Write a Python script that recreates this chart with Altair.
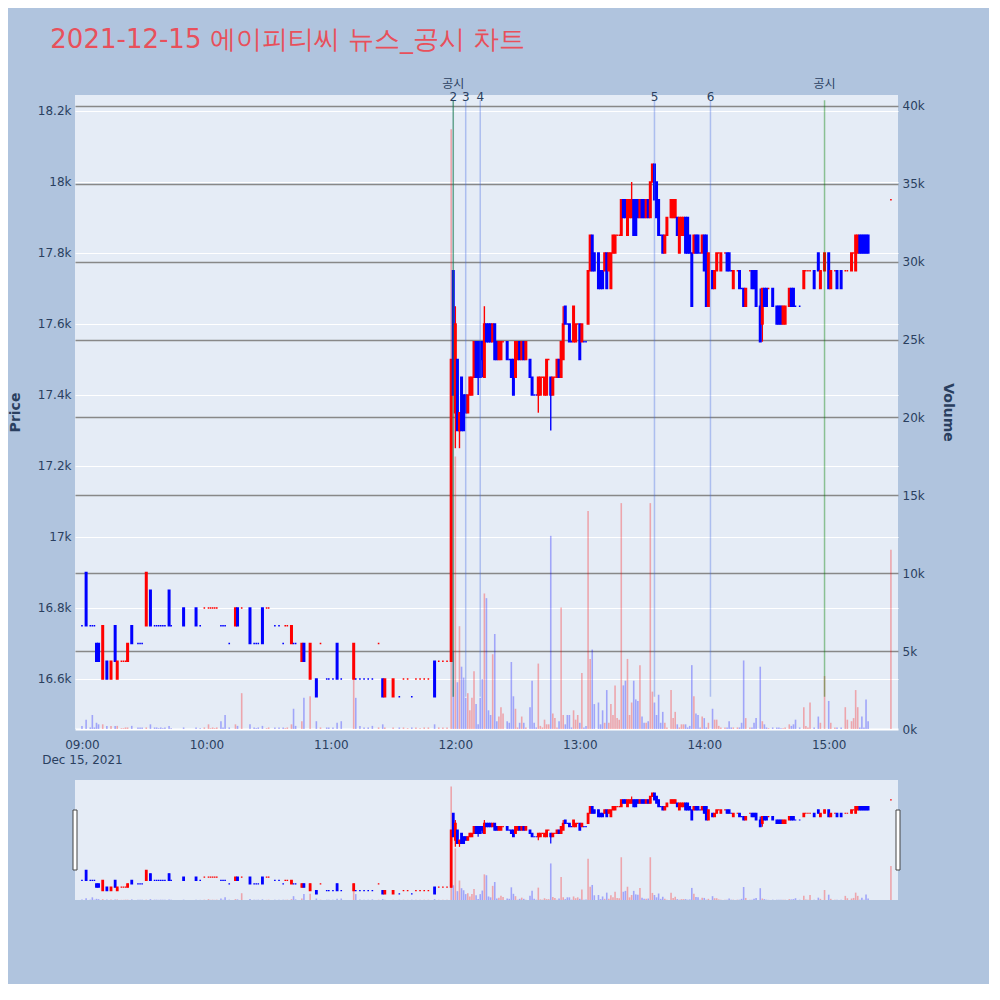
import altair as alt
import pandas as pd

# ---------------- data (1-minute candles, 2021-12-15) ----------------
times = [
    "09:00","09:02","09:04","09:05","09:06","09:07","09:08","09:10","09:12","09:14",
    "09:16","09:17","09:19","09:20","09:21","09:22","09:24","09:27","09:28","09:29",
    "09:31","09:33","09:35","09:36","09:37","09:38","09:39","09:40","09:42","09:43",
    "09:49","09:55","09:57","09:59","10:01","10:02","10:03","10:04","10:05","10:07",
    "10:08","10:09","10:11","10:14","10:15","10:17","10:21","10:23","10:24","10:25",
    "10:27","10:29","10:30","10:33","10:35","10:37","10:38","10:39","10:41","10:42",
    "10:43","10:46","10:47","10:50","10:53","10:55","10:58","10:59","11:01","11:03",
    "11:05","11:11","11:12","11:14","11:16","11:18","11:20","11:23","11:25","11:26",
    "11:30","11:33","11:35","11:37","11:39","11:41","11:43","11:45","11:47","11:50",
    "11:52","11:54","11:56","11:58","11:59","12:00","12:01","12:02","12:03","12:04",
    "12:05","12:06","12:07","12:08","12:09","12:10","12:11","12:12","12:13","12:14",
    "12:15","12:16","12:17","12:18","12:19","12:20","12:21","12:22","12:23","12:25",
    "12:26","12:27","12:28","12:29","12:30","12:31","12:32","12:33","12:34","12:36",
    "12:37","12:38","12:39","12:40","12:41","12:42","12:43","12:44","12:45","12:46",
    "12:47","12:48","12:49","12:50","12:51","12:52","12:53","12:54","12:55","12:56",
    "12:57","12:58","12:59","13:00","13:01","13:02","13:03","13:04","13:05","13:06",
    "13:07","13:09","13:10","13:11","13:12","13:13","13:14","13:15","13:16","13:17",
    "13:18","13:19","13:20","13:21","13:22","13:23","13:24","13:25","13:26","13:27",
    "13:28","13:29","13:30","13:31","13:32","13:33","13:34","13:35","13:36","13:37",
    "13:38","13:39","13:40","13:41","13:42","13:44","13:45","13:46","13:47","13:48",
    "13:49","13:50","13:51","13:52","13:53","13:54","13:55","13:56","13:57","13:58",
    "13:59","14:00","14:01","14:02","14:04","14:05","14:06","14:07","14:08","14:10",
    "14:11","14:12","14:13","14:14","14:16","14:17","14:18","14:19","14:20","14:22",
    "14:23","14:24","14:25","14:27","14:28","14:29","14:30","14:31","14:33","14:35",
    "14:36","14:37","14:38","14:39","14:41","14:42","14:43","14:44","14:46","14:48",
    "14:49","14:50","14:51","14:53","14:55","14:56","14:58","15:00","15:01","15:03",
    "15:04","15:06","15:08","15:09","15:11","15:12","15:13","15:14","15:15","15:16",
    "15:17","15:18","15:19","15:30",
]
opens = [
    16750,16900,16750,16750,16750,16700,16700,16600,16650,16600,
    16750,16600,16650,16650,16650,16650,16750,16700,16700,16700,
    16750,16850,16750,16750,16750,16750,16750,16750,16850,16750,
    16800,16800,16750,16800,16800,16800,16800,16800,16800,16750,
    16750,16750,16700,16750,16800,16800,16800,16700,16700,16700,
    16800,16800,16800,16750,16750,16700,16750,16750,16700,16700,
    16700,16650,16700,16600,16600,16700,16600,16600,16600,16700,
    16600,16600,16600,16600,16600,16600,16600,16700,16600,16550,
    16550,16550,16600,16600,16550,16600,16600,16600,16600,16650,
    16650,16650,16650,16650,17750,17350,17500,17300,17450,17400,
    17400,17350,17400,17400,17450,17550,17550,17550,17550,17450,
    17600,17600,17600,17550,17600,17550,17500,17500,17550,17550,
    17500,17500,17500,17450,17500,17550,17500,17550,17500,17500,
    17450,17400,17400,17400,17400,17450,17400,17400,17500,17450,
    17400,17450,17450,17500,17450,17500,17650,17600,17600,17550,
    17550,17550,17600,17600,17550,17550,17550,17600,17750,17850,
    17800,17800,17750,17750,17750,17800,17750,17700,17800,17800,
    17850,17850,17850,17950,17950,17850,17900,17900,17950,17950,
    17950,17900,17950,17950,17900,17950,17900,18000,18050,18000,
    17950,17850,17850,17800,17850,17900,17900,17900,17900,17800,
    17850,17850,17900,17900,17850,17800,17800,17850,17850,17800,
    17800,17850,17850,17650,17750,17700,17750,17800,17750,17800,
    17800,17800,17750,17700,17750,17750,17700,17700,17650,17750,
    17750,17750,17750,17650,17600,17700,17700,17700,17700,17650,
    17650,17650,17600,17600,17650,17700,17700,17650,17650,17700,
    17750,17750,17750,17750,17800,17700,17750,17800,17700,17750,
    17750,17750,17750,17750,17750,17800,17750,17800,17850,17850,
    17850,17850,17850,17950,
]
highs = [
    16750,16900,16750,16750,16750,16700,16700,16750,16650,16650,
    16750,16650,16650,16650,16650,16700,16750,16700,16700,16700,
    16900,16850,16750,16750,16750,16750,16750,16750,16850,16750,
    16800,16800,16750,16800,16800,16800,16800,16800,16800,16750,
    16750,16750,16700,16800,16800,16800,16800,16700,16700,16700,
    16800,16800,16800,16750,16750,16700,16750,16750,16750,16700,
    16700,16700,16700,16700,16600,16700,16600,16600,16600,16700,
    16600,16700,16600,16600,16600,16600,16600,16700,16600,16600,
    16600,16550,16600,16600,16550,16600,16600,16600,16600,16650,
    16650,16650,16650,17500,17750,17650,17500,17350,17450,17400,
    17400,17400,17450,17450,17550,17550,17550,17550,17550,17650,
    17600,17600,17600,17600,17600,17550,17550,17550,17550,17550,
    17500,17500,17500,17550,17550,17550,17550,17550,17550,17500,
    17450,17400,17400,17450,17450,17450,17450,17500,17500,17450,
    17450,17450,17500,17500,17550,17650,17650,17600,17600,17550,
    17650,17600,17600,17600,17600,17550,17550,17750,17850,17850,
    17800,17800,17750,17750,17800,17800,17800,17800,17850,17850,
    17850,17850,17950,17950,17950,17950,17950,18000,17950,17950,
    17950,17950,17950,17950,17950,17950,18000,18050,18050,18000,
    17950,17850,17850,17850,17900,17950,17950,17950,17900,17900,
    17900,17900,17900,17900,17850,17800,17850,17850,17850,17800,
    17850,17850,17850,17800,17750,17750,17800,17800,17800,17800,
    17800,17800,17750,17750,17750,17750,17700,17700,17700,17750,
    17750,17750,17750,17700,17700,17700,17700,17700,17700,17650,
    17650,17650,17650,17650,17700,17700,17700,17650,17650,17750,
    17750,17750,17750,17750,17800,17750,17800,17800,17750,17750,
    17750,17750,17750,17750,17800,17800,17850,17850,17850,17850,
    17850,17850,17850,17950,
]
lows = [
    16750,16750,16750,16750,16750,16650,16650,16600,16600,16600,
    16650,16600,16650,16650,16650,16650,16700,16700,16700,16700,
    16750,16750,16750,16750,16750,16750,16750,16750,16750,16750,
    16750,16750,16750,16800,16800,16800,16800,16800,16800,16750,
    16750,16750,16700,16750,16750,16800,16700,16700,16700,16700,
    16700,16800,16800,16750,16750,16700,16750,16750,16700,16700,
    16700,16650,16650,16600,16550,16700,16600,16600,16600,16600,
    16600,16600,16600,16600,16600,16600,16600,16700,16550,16550,
    16550,16550,16600,16600,16550,16600,16600,16600,16600,16550,
    16650,16650,16650,16650,17400,17250,17300,17250,17300,17300,
    17350,17350,17400,17400,17450,17450,17400,17450,17450,17450,
    17550,17550,17550,17550,17500,17500,17500,17500,17550,17500,
    17500,17450,17400,17450,17500,17500,17500,17500,17500,17450,
    17400,17400,17400,17350,17400,17450,17400,17400,17500,17300,
    17400,17450,17450,17450,17450,17500,17600,17600,17550,17550,
    17550,17550,17600,17500,17550,17550,17550,17600,17750,17750,
    17750,17700,17700,17700,17750,17700,17750,17700,17800,17800,
    17850,17850,17850,17900,17900,17850,17900,17900,17850,17850,
    17900,17900,17900,17900,17900,17900,17900,18000,17950,17900,
    17850,17850,17800,17800,17850,17900,17900,17900,17850,17800,
    17850,17850,17800,17800,17800,17650,17800,17800,17800,17800,
    17800,17750,17650,17650,17700,17700,17750,17800,17750,17800,
    17750,17750,17750,17700,17750,17700,17700,17650,17650,17750,
    17700,17700,17650,17550,17550,17650,17650,17700,17650,17600,
    17600,17600,17600,17600,17650,17650,17650,17650,17650,17700,
    17750,17750,17750,17700,17750,17700,17750,17700,17700,17750,
    17700,17700,17750,17750,17750,17800,17750,17800,17800,17800,
    17800,17800,17800,17950,
]
closes = [
    16750,16750,16750,16750,16750,16650,16650,16750,16600,16650,
    16650,16650,16650,16650,16650,16700,16700,16700,16700,16700,
    16900,16750,16750,16750,16750,16750,16750,16750,16750,16750,
    16750,16750,16750,16800,16800,16800,16800,16800,16800,16750,
    16750,16750,16700,16800,16750,16800,16700,16700,16700,16700,
    16700,16800,16800,16750,16750,16700,16750,16750,16750,16700,
    16700,16700,16650,16700,16550,16700,16600,16600,16600,16600,
    16600,16700,16600,16600,16600,16600,16600,16700,16550,16600,
    16600,16550,16600,16600,16550,16600,16600,16600,16600,16550,
    16650,16650,16650,17500,17400,17600,17300,17350,17300,17300,
    17350,17400,17450,17450,17550,17450,17450,17450,17500,17600,
    17550,17550,17550,17600,17500,17500,17550,17550,17550,17500,
    17500,17450,17400,17550,17550,17500,17550,17500,17550,17450,
    17400,17400,17400,17450,17450,17450,17450,17500,17500,17400,
    17450,17450,17500,17450,17550,17600,17600,17600,17550,17550,
    17650,17600,17600,17500,17600,17550,17550,17750,17850,17750,
    17750,17700,17700,17700,17800,17700,17800,17800,17850,17850,
    17850,17850,17950,17900,17900,17950,17950,17950,17850,17850,
    17900,17950,17900,17900,17950,17900,18000,18050,17950,17900,
    17850,17850,17800,17850,17900,17950,17950,17950,17850,17900,
    17900,17900,17800,17800,17800,17650,17850,17800,17800,17800,
    17850,17750,17650,17800,17700,17750,17800,17800,17800,17800,
    17750,17750,17750,17750,17750,17700,17700,17650,17700,17750,
    17700,17700,17650,17550,17700,17650,17650,17700,17650,17600,
    17600,17600,17650,17650,17700,17650,17650,17650,17650,17750,
    17750,17750,17750,17700,17750,17750,17800,17700,17750,17750,
    17700,17700,17750,17750,17800,17800,17850,17850,17800,17800,
    17800,17800,17800,17950,
]
volumes = [
    200,600,100,900,100,400,300,300,200,200,
    200,200,50,50,100,100,200,100,100,100,
    100,300,100,100,50,100,50,100,200,50,
    100,100,50,100,300,50,100,50,100,500,
    100,900,100,300,200,2300,300,100,50,100,
    200,50,100,100,100,100,50,100,300,1300,
    200,500,2000,2100,500,100,100,100,100,400,
    500,4200,2000,200,100,100,200,100,300,100,
    100,100,100,50,100,100,50,100,100,300,
    100,100,100,38500,5000,17500,3000,6600,4000,3300,
    2000,2300,1200,2000,3700,1600,300,2000,3200,8700,
    8400,1200,900,4800,6100,500,800,1400,1000,500,
    400,4300,2100,1300,100,400,800,400,100,1400,
    3100,400,100,4200,200,100,600,300,300,12400,
    1000,700,100,500,7800,900,300,900,900,100,
    1200,600,900,400,3600,100,200,14000,4500,5100,
    1600,1700,300,1200,400,2500,400,1600,900,2800,
    700,600,14500,2800,3100,4500,900,1700,3100,1900,
    1800,4100,800,400,400,500,14500,2400,1700,900,
    2200,400,1100,400,100,2500,700,1100,300,100,
    300,300,300,100,200,4100,2100,1000,900,100,
    800,700,100,400,1300,600,600,200,100,100,
    100,500,100,100,100,100,400,4400,700,100,
    100,400,700,4000,500,300,100,50,100,100,
    100,50,50,100,300,200,300,600,100,1400,
    200,100,1700,100,800,400,3400,1800,400,100,
    100,100,1400,600,500,700,2500,1400,100,800,
    100,1900,500,11500,
]

# news / disclosure markers
news_times = ["11:59", "12:05", "12:12", "13:36", "14:03"]
news_labels = ["2", "3", "4", "5", "6"]
disc_times = ["11:59", "14:58"]
disc_labels = ["공시", "공시"]

# axis tick labels
x_tick_labels = ["09:00", "10:00", "11:00", "12:00", "13:00", "14:00", "15:00"]
x_date_label = "Dec 15, 2021"
price_ticks = [16600, 16800, 17000, 17200, 17400, 17600, 17800, 18000, 18200]
volume_ticks = [0, 5000, 10000, 15000, 20000, 25000, 30000, 35000, 40000]

title_text = "2021-12-15 에이피티씨 뉴스_공시 차트"

# ---------------- build tables ----------------
assert len({len(times), len(opens), len(highs), len(lows), len(closes), len(volumes)}) == 1


def to_min(t):
    h, m = t.split(":")
    return (int(h) - 9) * 60 + int(m)


rows = []
prev_c, prev_dir = None, "down"
for t, o, h, l, c, v in zip(times, opens, highs, lows, closes, volumes):
    if c > o:
        d = "up"
    elif c < o:
        d = "down"
    elif prev_c is not None and c > prev_c:
        d = "up"
    elif prev_c is not None and c < prev_c:
        d = "down"
    else:
        d = prev_dir
    rows.append(dict(t=to_min(t), o=o, h=h, l=l, c=c, v=v, dir=d))
    prev_c, prev_dir = c, d
df = pd.DataFrame(rows)

news_df = pd.DataFrame({"t": [to_min(t) for t in news_times], "label": news_labels})
disc_df = pd.DataFrame({"t": [to_min(t) for t in disc_times], "label": disc_labels})

line_lo = min(lows)
line_hi = max(highs) * 1.01

# ---------------- style ----------------
BG = "#b0c4de"
PLOT_BG = "#e5ecf6"
FONT = "DejaVu Sans"
TXT = "#2a3f5f"
W, H, SH = 823, 634, 120

x_scale = alt.Scale(domain=[-0.95, 391], nice=False, zero=False)
price_scale = alt.Scale(domain=[16459, 18245], nice=False, zero=False)
vol_scale = alt.Scale(domain=[0, 40700], nice=False, zero=True)
dir_scale = alt.Scale(domain=["up", "down"], range=["red", "blue"])
color = alt.Color("dir:N", scale=dir_scale, legend=None)
stroke = alt.Stroke("dir:N", scale=dir_scale, legend=None)

labels_js = "[" + ",".join("'%s'" % s for s in x_tick_labels) + "]"
label_expr = ("datum.value == 0 ? ['%s', '%s'] : %s[round(datum.value / 60)]"
              % (x_tick_labels[0], x_date_label, labels_js))

x_axis = alt.Axis(values=[to_min(s) for s in x_tick_labels], labelExpr=label_expr,
                  grid=False, ticks=False, domain=False, labelColor=TXT, labelFontSize=12,
                  labelPadding=10, labelLineHeight=15, title=None, labelFont=FONT)
x_main = alt.X("t:Q", scale=x_scale, axis=x_axis)

price_axis = alt.Axis(values=price_ticks, format="~s", grid=True, gridColor="white", gridWidth=1,
                      ticks=False, domain=False, labelColor=TXT, labelFontSize=12, labelPadding=4,
                      title="Price", titleColor=TXT, titleFontSize=14, titleFontWeight="bold",
                      titlePadding=15, labelFont=FONT, titleFont=FONT)
vol_axis = alt.Axis(values=volume_ticks, format="~s", grid=True,
                    gridColor={"condition": {"test": "datum.value === 0", "value": "white"}, "value": "#888888"},
                    gridWidth={"condition": {"test": "datum.value === 0", "value": 2}, "value": 1.3},
                    ticks=False, domain=False, labelColor=TXT, labelFontSize=12, labelPadding=4,
                    orient="right", title="Volume", titleColor=TXT, titleFontSize=14,
                    titleFontWeight="bold", titlePadding=16, labelFont=FONT, titleFont=FONT)

base = alt.Chart(df)

vol_main = base.mark_bar(size=1.6, opacity=0.3).encode(
    x=x_main, y=alt.Y("v:Q", scale=vol_scale, axis=vol_axis), color=color)

wick_main = base.mark_rule(strokeWidth=1.4).encode(
    x=x_main, y=alt.Y("l:Q", scale=price_scale, axis=price_axis), y2="h:Q", color=color)
body_main = base.mark_bar(size=1.6, strokeWidth=1.4).encode(
    x=x_main, y=alt.Y("o:Q", scale=price_scale, axis=price_axis), y2="c:Q", color=color, stroke=stroke)

news_lines = alt.Chart(news_df).mark_rule(color="#4169e1", opacity=0.35, strokeWidth=1.5).encode(
    x=x_main, y=alt.datum(line_lo), y2=alt.datum(line_hi))
disc_lines = alt.Chart(disc_df).mark_rule(color="green", opacity=0.4, strokeWidth=1.5).encode(
    x=x_main, y=alt.datum(line_lo), y2=alt.datum(line_hi))
news_text = alt.Chart(news_df).mark_text(fontSize=12, color=TXT, dy=-3, baseline="middle", font=FONT).encode(
    x=x_main, y=alt.datum(line_hi), text="label:N")
disc_text = alt.Chart(disc_df).mark_text(fontSize=12, color=TXT, dy=-16, baseline="middle",
                                         font="Noto Sans CJK KR").encode(
    x=x_main, y=alt.datum(line_hi), text="label:N")

price_layer = alt.layer(wick_main, body_main, news_lines, disc_lines, news_text, disc_text)
main = alt.layer(vol_main, price_layer).resolve_scale(y="independent").properties(width=W, height=H)

# ---------------- range slider ----------------
x_sl = alt.X("t:Q", scale=x_scale, axis=None)
vol_sl = base.mark_bar(size=1.6, opacity=0.3).encode(
    x=x_sl, y=alt.Y("v:Q", scale=vol_scale, axis=None), color=color)
wick_sl = base.mark_rule(strokeWidth=1.2).encode(
    x=x_sl, y=alt.Y("l:Q", scale=price_scale, axis=None), y2="h:Q", color=color)
body_sl = base.mark_bar(size=1.6, strokeWidth=1.2).encode(
    x=x_sl, y=alt.Y("o:Q", scale=price_scale, axis=None), y2="c:Q", color=color, stroke=stroke)
one = pd.DataFrame({"a": [0]})
handle_l = alt.Chart(one).mark_rect(fill="white", stroke="#444444", strokeWidth=1).encode(
    x=alt.value(-2), x2=alt.value(2), y=alt.value(30), y2=alt.value(90))
handle_r = alt.Chart(one).mark_rect(fill="white", stroke="#444444", strokeWidth=1).encode(
    x=alt.value(W - 2), x2=alt.value(W + 2), y=alt.value(30), y2=alt.value(90))
slider = alt.layer(
    vol_sl, alt.layer(wick_sl, body_sl), handle_l, handle_r
).resolve_scale(y="independent").properties(width=W, height=SH)

chart = alt.vconcat(main, slider, spacing=15).resolve_scale(
    x="independent", y="independent"
).properties(
    title=alt.TitleParams(title_text, anchor="start", fontSize=26, color="#e8505b", font=FONT,
                          fontWeight="normal", dx=42, offset=25),
    padding={"left": 0, "top": 19, "right": 34, "bottom": 84},
).configure(background=BG).configure_view(fill=PLOT_BG, stroke=None)

chart.save("out.html", embed_options={"renderer": "svg", "actions": False})
